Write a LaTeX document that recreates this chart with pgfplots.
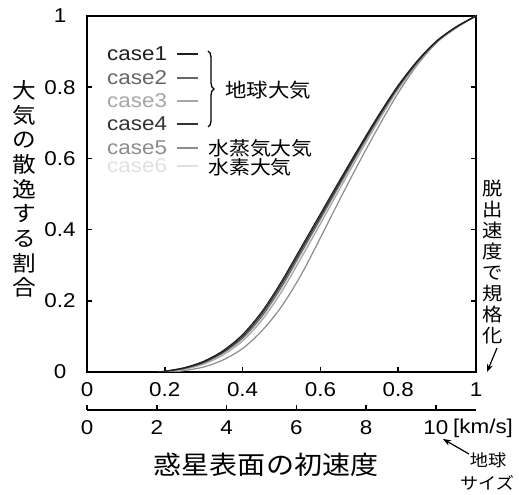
\documentclass[border=0pt]{standalone}
\usepackage{fontspec}
\setmainfont[FakeStretch=1.12]{Liberation Sans}
\newfontfamily\jp[FakeStretch=1.1]{Noto Sans CJK JP}
\usepackage{pgfplots}
\pgfplotsset{compat=1.18}
\usetikzlibrary{arrows.meta,decorations.pathreplacing}
\newcommand\tickfont{\fontsize{20bp}{24bp}\selectfont}
\colorlet{cA}{black!88}
\colorlet{cB}{black!60}
\colorlet{cC}{black!35}
\colorlet{cD}{black!80}
\colorlet{cE}{black!45}
\colorlet{cF}{black!12}
\begin{document}
\begin{tikzpicture}
\useasboundingbox (-87bp,-123bp) rectangle (432bp,372bp);
\begin{axis}[
  at={(0,0)}, anchor=south west,
  scale only axis, width=389bp, height=356bp,
  xmin=0, xmax=1, ymin=0, ymax=1,
  axis line style={line width=2.4bp},
  xtick={0,0.2,0.4,0.6,0.8,1}, ytick={0,0.2,0.4,0.6,0.8,1},
  xticklabels={0,0.2,0.4,0.6,0.8,1}, yticklabels={0,0.2,0.4,0.6,0.8,1},
  xtick pos=left, ytick pos=both,
  tick align=inside, major tick length=5bp,
  tick style={line width=1.5bp, black},
  xticklabel style={anchor=center, yshift=-18bp, font=\tickfont},
  yticklabel style={anchor=center, xshift=-27bp, font=\tickfont},
  /pgf/number format/assume math mode=true,
  clip=true,
]
% case6 (very light)
\addplot[cF, line width=1.2bp, smooth] coordinates {
(0.20,0.001)(0.25,0.009)(0.30,0.024)(0.35,0.051)(0.40,0.091)(0.45,0.151)(0.50,0.232)(0.55,0.326)(0.60,0.423)(0.65,0.521)(0.70,0.617)(0.75,0.710)(0.80,0.796)(0.85,0.869)(0.90,0.928)(0.95,0.968)(1.00,1.000)};
% case5
\addplot[cE, line width=1.2bp, smooth] coordinates {
(0.22,0.000)(0.25,0.004)(0.30,0.014)(0.35,0.034)(0.40,0.066)(0.45,0.116)(0.50,0.184)(0.55,0.272)(0.60,0.377)(0.65,0.485)(0.70,0.590)(0.75,0.690)(0.80,0.784)(0.85,0.864)(0.90,0.926)(0.95,0.967)(1.00,1.000)};
% case3
\addplot[cC, line width=1.2bp, smooth] coordinates {
(0.20,0.001)(0.25,0.008)(0.30,0.022)(0.35,0.048)(0.40,0.087)(0.45,0.146)(0.50,0.225)(0.55,0.319)(0.60,0.416)(0.65,0.515)(0.70,0.612)(0.75,0.706)(0.80,0.794)(0.85,0.868)(0.90,0.928)(0.95,0.968)(1.00,1.000)};
% case2
\addplot[cB, line width=1.2bp, smooth] coordinates {
(0.20,0.001)(0.25,0.010)(0.30,0.026)(0.35,0.054)(0.40,0.095)(0.45,0.157)(0.50,0.239)(0.55,0.334)(0.60,0.430)(0.65,0.527)(0.70,0.622)(0.75,0.714)(0.80,0.799)(0.85,0.871)(0.90,0.929)(0.95,0.969)(1.00,1.000)};
% case4
\addplot[cD, line width=1.2bp, smooth] coordinates {
(0.18,0.000)(0.20,0.002)(0.25,0.011)(0.30,0.028)(0.35,0.057)(0.40,0.100)(0.45,0.164)(0.50,0.247)(0.55,0.342)(0.60,0.437)(0.65,0.533)(0.70,0.627)(0.75,0.718)(0.80,0.802)(0.85,0.873)(0.90,0.930)(0.95,0.970)(1.00,1.000)};
% case1
\addplot[cA, line width=1.2bp, smooth] coordinates {
(0.18,0.000)(0.20,0.002)(0.25,0.012)(0.30,0.030)(0.35,0.060)(0.40,0.105)(0.45,0.170)(0.50,0.254)(0.55,0.349)(0.60,0.444)(0.65,0.539)(0.70,0.632)(0.75,0.722)(0.80,0.805)(0.85,0.875)(0.90,0.931)(0.95,0.970)(1.00,1.000)};
\end{axis}
\begin{axis}[
  at={(0,-38bp)}, anchor=south west,
  scale only axis, width=389bp, height=10bp,
  xmin=0, xmax=11.15, ymin=0, ymax=1,
  axis x line*=bottom, axis y line=none, ytick=\empty,
  x axis line style={-, line width=2bp},
  xtick={0,2,4,6,8,10}, xticklabels={0,2,4,6,8,10},
  tick align=inside, major tick length=5bp,
  xtick style={line width=1.5bp, black},
  xticklabel style={anchor=center, yshift=-18bp, font=\tickfont},
  /pgf/number format/assume math mode=true,
]
\addplot[draw=none] coordinates {(0,0)(1,0)};
\end{axis}
% km/s unit
\node[anchor=west, inner sep=0, font=\tickfont] at (366bp,-56bp) {[km/s]};
% legend
\foreach \t/\c/\y in {case1/cA/318,case2/cB/294,case3/cC/271,case4/cD/248,case5/cE/224,case6/cF/206}{
  \node[anchor=west, inner sep=0, text=\c, font=\tickfont] at (20bp,\y bp) {\t};
  \draw[\c, line width=1.4bp] (90bp,\y bp) -- (111bp,\y bp);
}
\draw[decorate, decoration={brace, amplitude=6bp}, line width=1.3bp] (121bp,321bp) -- (121bp,245bp);
\node[anchor=west, inner sep=0, font=\jp\fontsize{19.5bp}{22bp}\selectfont] at (138bp,282bp) {地球大気};
\node[anchor=west, inner sep=0, font=\jp\fontsize{19bp}{22bp}\selectfont] at (121bp,224bp) {水蒸気大気};
\node[anchor=west, inner sep=0, font=\jp\fontsize{19bp}{22bp}\selectfont] at (121bp,205bp) {水素大気};
% y label
\node[align=center, inner sep=0, font=\jp\fontsize{21.5bp}{24.7bp}\selectfont] at (-63bp,183bp) {大\\気\\の\\散\\逸\\す\\る\\割\\合};
% right label
\node[align=center, inner sep=0, font=\jp\fontsize{18.5bp}{21bp}\selectfont] at (406bp,110bp) {脱\\出\\速\\度\\で\\規\\格\\化};
\draw[-{Stealth[length=8bp,width=6bp]}, line width=1.2bp] (410bp,24bp) -- (400bp,0bp);
% x label
\node[inner sep=0, font=\jp\fontsize{25.5bp}{28bp}\selectfont] at (179bp,-93bp) {惑星表面の初速度};
% earth size
\node[inner sep=0, font=\jp\fontsize{16.5bp}{18bp}\selectfont] at (401bp,-88bp) {地球};
\node[inner sep=0, font=\jp\fontsize{16.5bp}{18bp}\selectfont] at (400bp,-111bp) {サイズ};
\draw[-{Stealth[length=8bp,width=6bp]}, line width=1.2bp] (382bp,-82bp) -- (356bp,-67bp);
\end{tikzpicture}
\end{document}
